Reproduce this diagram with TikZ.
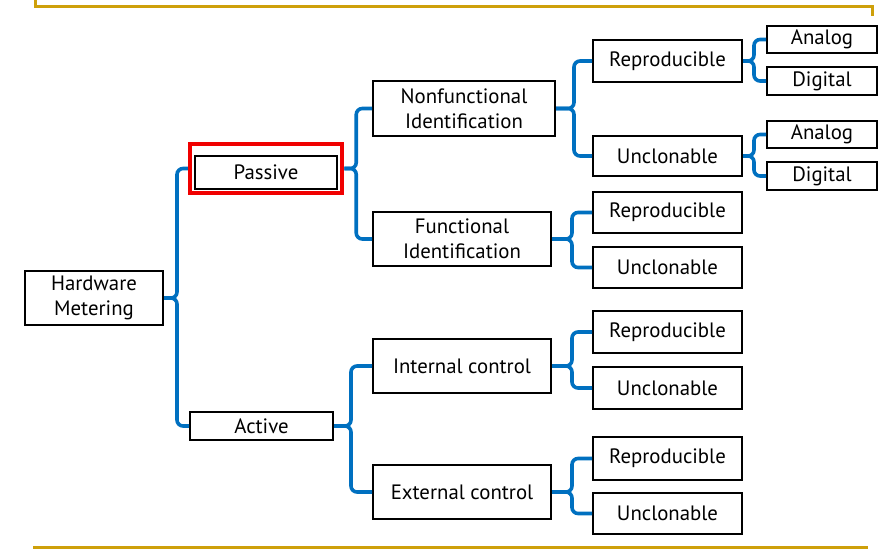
\documentclass[tikz,border=0pt]{standalone}
\usepackage{fontspec}
\setmainfont{PT Sans}
\usetikzlibrary{calc}

\definecolor{linkblue}{RGB}{0,112,192}
\definecolor{framegold}{RGB}{206,160,10}
\definecolor{markred}{RGB}{240,0,0}

\begin{document}
\begin{tikzpicture}[x=1pt,y=-1pt,
    box/.style={draw, line width=2pt, inner sep=0pt, align=center,
        font=\fontsize{20.8}{25}\selectfont},
    link/.style={draw=linkblue, line width=3.6pt, rounded corners=6pt}]

\useasboundingbox (0,0) rectangle (892,549);

% frame lines
\draw[framegold, line width=3pt] (35,0) -- (35,6) -- (872,6) -- (872,16);
\draw[framegold, line width=3pt] (33,547.5) -- (868,547.5);

% first levels
\node[box, minimum width=138, minimum height=54] (hw) at (94,298) {Hardware\\Metering};
\node[draw=markred, line width=4.5pt, minimum width=152, minimum height=49, inner sep=0pt] (passivemark) at (266,168.5) {};
\node[box, minimum width=142, minimum height=33] (passive) at (266,172) {Passive};
\node[box, minimum width=143, minimum height=28] (active) at (261.5,426) {Active};

\node[box, minimum width=182, minimum height=55] (nonfunc) at (464,108.5) {Nonfunctional\\Identification};
\node[box, minimum width=178, minimum height=54] (func) at (462,239) {Functional\\Identification};
\node[box, minimum width=178, minimum height=54] (internal) at (462,366) {Internal control};
\node[box, minimum width=178, minimum height=54] (external) at (462,492) {External control};

% reproducible / unclonable
\foreach \n/\t/\y/\h in {rep1/Reproducible/61/42, unc1/Unclonable/156/40,
        rep2/Reproducible/212.5/41, unc2/Unclonable/267.5/41,
        rep3/Reproducible/332/42, unc3/Unclonable/388/42,
        rep4/Reproducible/458.5/43, unc4/Unclonable/513.5/41}
    \node[box, minimum width=149, minimum height=\h] (\n) at (667.5,\y) {\t};

% analog / digital
\foreach \n/\t/\y in {an1/Analog/39.5, dg1/Digital/81, an2/Analog/134.5, dg2/Digital/176}
    \node[box, minimum width=110, minimum height=27.5] (\n) at (822,\y) {\t};

% connectors
\foreach \p/\c/\d in {hw/passivemark/13, hw/active/13,
        passivemark/nonfunc/12, passivemark/func/12,
        active/internal/17, active/external/17,
        nonfunc/rep1/18, nonfunc/unc1/18,
        func/rep2/20, func/unc2/20,
        internal/rep3/20, internal/unc3/20,
        external/rep4/20, external/unc4/20,
        rep1/an1/11, rep1/dg1/11, unc1/an2/11, unc1/dg2/11}
    \draw[link] (\p.east) -- ++(\d,0) |- (\c.west);

\end{tikzpicture}
\end{document}
